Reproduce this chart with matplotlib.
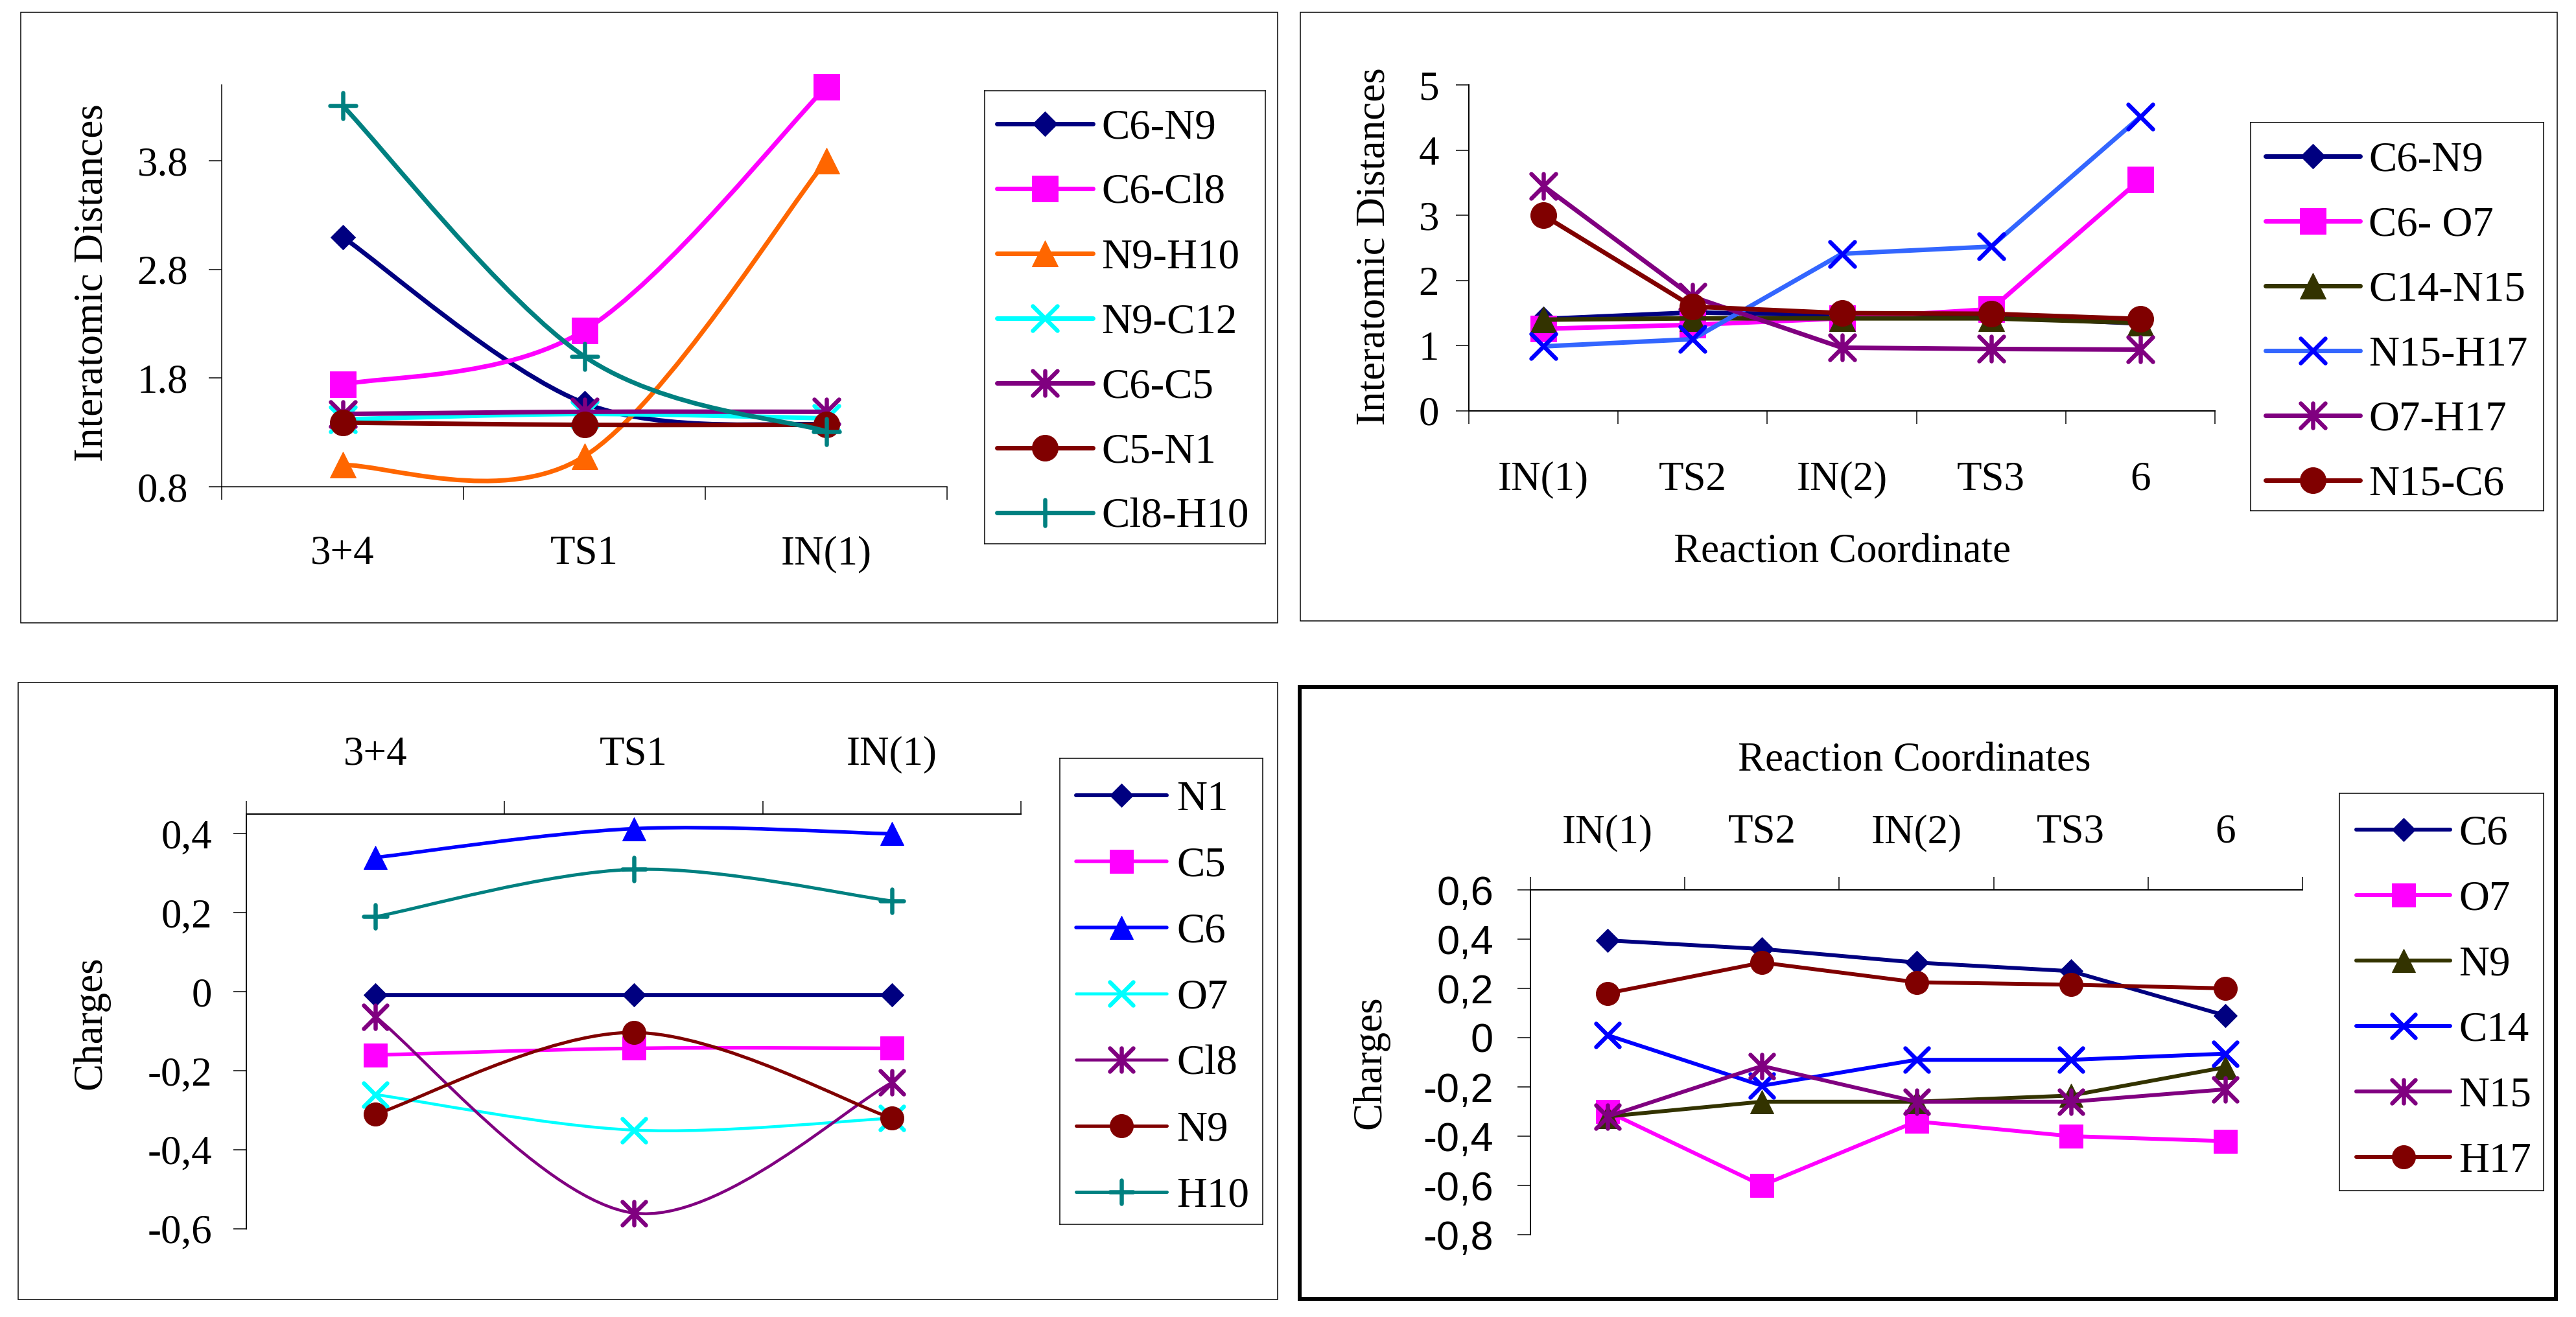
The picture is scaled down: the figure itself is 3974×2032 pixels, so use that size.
import numpy as np
import matplotlib
matplotlib.use('Agg')
import matplotlib.pyplot as plt
from matplotlib.path import Path
from matplotlib.patches import PathPatch, Rectangle
from matplotlib.markers import MarkerStyle

# ---------------- data ----------------
cats1 = ['3+4', 'TS1', 'IN(1)']
cats2 = ['IN(1)', 'TS2', 'IN(2)', 'TS3', '6']

# panel 1: interatomic distances (3+4 -> IN(1))
p1_labels = ['C6-N9', 'C6-Cl8', 'N9-H10', 'N9-C12', 'C6-C5', 'C5-N1', 'Cl8-H10']
p1_c6_n9 = [3.10, 1.57, 1.37]
p1_c6_cl8 = [1.74, 2.24, 4.48]
p1_n9_h10 = [1.00, 1.08, 3.80]
p1_n9_c12 = [1.42, 1.47, 1.43]
p1_c6_c5 = [1.47, 1.49, 1.49]
p1_c5_n1 = [1.39, 1.37, 1.37]
p1_cl8_h10 = [4.31, 2.00, 1.31]
p1_yticks = [0.8, 1.8, 2.8, 3.8]
p1_yticklabels = ['0.8', '1.8', '2.8', '3.8']

# panel 2: interatomic distances (IN(1) -> 6)
p2_labels = ['C6-N9', 'C6- O7', 'C14-N15', 'N15-H17', 'O7-H17', 'N15-C6']
p2_c6_n9 = [1.41, 1.51, 1.47, 1.45, 1.34]
p2_c6_o7 = [1.26, 1.32, 1.42, 1.56, 3.55]
p2_c14_n15 = [1.40, 1.42, 1.42, 1.42, 1.35]
p2_n15_h17 = [0.99, 1.10, 2.41, 2.52, 4.51]
p2_o7_h17 = [3.45, 1.75, 0.97, 0.95, 0.94]
p2_n15_c6 = [3.00, 1.60, 1.50, 1.49, 1.41]
p2_yticks = [0, 1, 2, 3, 4, 5]
p2_yticklabels = ['0', '1', '2', '3', '4', '5']

# panel 3: charges (3+4 -> IN(1))
p3_labels = ['N1', 'C5', 'C6', 'O7', 'Cl8', 'N9', 'H10']
p3_n1 = [-0.008, -0.008, -0.008]
p3_c5 = [-0.16, -0.143, -0.143]
p3_c6 = [0.34, 0.413, 0.40]
p3_o7 = [-0.26, -0.35, -0.32]
p3_cl8 = [-0.063, -0.56, -0.23]
p3_n9 = [-0.31, -0.103, -0.32]
p3_h10 = [0.19, 0.31, 0.23]
p3_yticks = [-0.6, -0.4, -0.2, 0, 0.2, 0.4]
p3_yticklabels = ['-0,6', '-0,4', '-0,2', '0', '0,2', '0,4']

# panel 4: charges (IN(1) -> 6)
p4_labels = ['C6', 'O7', 'N9', 'C14', 'N15', 'H17']
p4_c6 = [0.395, 0.36, 0.305, 0.27, 0.09]
p4_o7 = [-0.30, -0.60, -0.34, -0.40, -0.42]
p4_n9 = [-0.32, -0.26, -0.26, -0.235, -0.12]
p4_c14 = [0.01, -0.195, -0.09, -0.09, -0.065]
p4_n15 = [-0.32, -0.115, -0.26, -0.26, -0.21]
p4_h17 = [0.18, 0.305, 0.225, 0.215, 0.20]
p4_yticks = [-0.8, -0.6, -0.4, -0.2, 0, 0.2, 0.4, 0.6]
p4_yticklabels = ['-0,8', '-0,6', '-0,4', '-0,2', '0', '0,2', '0,4', '0,6']

# ---------------- setup ----------------
W, H = 3974, 2032
P = 72 / 100.0  # points per pixel at dpi 100
SERIF = ['Liberation Serif', 'DejaVu Serif']
SANS = ['Liberation Sans', 'DejaVu Sans']
plt.rcParams['font.family'] = SERIF
FS = 63 * P
LFS = 65 * P

NAVY = '#000080'; MAG = '#FF00FF'; ORANGE = '#FF6600'; CYAN = '#00FFFF'
PURPLE = '#800080'; MAROON = '#800000'; TEAL = '#008080'; BLUE = '#0000FF'
OLIVE = '#333300'; LBLUE = '#3366FF'

STAR = Path([(0, -1), (0, 1), (-1, -1), (1, 1), (-1, 1), (1, -1)],
            [Path.MOVETO, Path.LINETO, Path.MOVETO, Path.LINETO, Path.MOVETO, Path.LINETO])
STROKED = {'x', '+', 'star'}


def st(color, marker, ms, lw, mcolor=None, mew=6.5):
    return dict(color=color, marker=marker, ms=ms, lw=lw,
                mcolor=mcolor if mcolor else color, mew=mew)


def marker_kw(s):
    m = s['marker']
    if m == 'star':
        mstyle = MarkerStyle(STAR, capstyle='round', joinstyle='round')
    elif m in ('x', '+'):
        mstyle = MarkerStyle(m, capstyle='round', joinstyle='round')
    else:
        mstyle = MarkerStyle(m)
    ms = s['ms']
    if m == 'D':
        ms = ms / 1.414
    if m in STROKED:
        return dict(marker=mstyle, markersize=ms * P, markerfacecolor='none',
                    markeredgecolor=s['mcolor'], markeredgewidth=s['mew'] * P)
    return dict(marker=mstyle, markersize=ms * P, markerfacecolor=s['mcolor'],
                markeredgecolor=s['mcolor'], markeredgewidth=1.0 * P)


def smooth_path(x, y):
    pts = np.column_stack([x, y]).astype(float)
    n = len(pts)
    verts = [pts[0]]
    codes = [Path.MOVETO]
    for i in range(n - 1):
        p0 = pts[i - 1] if i > 0 else pts[i]
        p1 = pts[i]
        p2 = pts[i + 1]
        p3 = pts[i + 2] if i + 2 < n else pts[i + 1]
        c1 = p1 + (p2 - p0) / 6.0
        c2 = p2 - (p3 - p1) / 6.0
        verts += [c1, c2, p2]
        codes += [Path.CURVE4] * 3
    return Path(verts, codes)


def draw_series(ax, y, s, smooth, z):
    x = np.arange(len(y))
    if smooth:
        ax.add_patch(PathPatch(smooth_path(x, y), fill=False, ec=s['color'],
                               lw=s['lw'] * P, capstyle='round', joinstyle='round',
                               zorder=z, clip_on=False))
        ax.plot(x, y, ls='none', zorder=z + 0.5, clip_on=False, **marker_kw(s))
    else:
        ax.plot(x, y, color=s['color'], lw=s['lw'] * P, solid_capstyle='round',
                solid_joinstyle='round', zorder=z, clip_on=False, **marker_kw(s))


fig = plt.figure(figsize=(W / 100, H / 100), dpi=100)


def frame(l, t, r, b, lw):
    fig.add_artist(Rectangle((l / W, 1 - b / H), (r - l) / W, (b - t) / H,
                             transform=fig.transFigure, fill=False, ec='black', lw=lw * P))


def make_axes(l, t, r, b):
    return fig.add_axes([l / W, 1 - b / H, (r - l) / W, (b - t) / H])


def style_axes(ax, box, cats, ylim, yticks, yticklabels, top, xpad, ypad,
               ylabel, ylab_xy, spine_lw, yfont=SERIF):
    l, t, r, b = box
    n = len(cats)
    ax.patch.set_visible(False)
    for sp in ax.spines.values():
        sp.set_visible(False)
    ax.spines['left'].set_visible(True)
    ax.spines['left'].set_linewidth(spine_lw * P)
    xs = 'top' if top else 'bottom'
    ax.spines[xs].set_visible(True)
    ax.spines[xs].set_linewidth(spine_lw * P)
    ax.set_xlim(-0.5, n - 0.5)
    ax.set_ylim(*ylim)
    ax.set_xticks(range(n))
    ax.set_xticklabels(cats)
    ax.set_xticks(np.arange(n + 1) - 0.5, minor=True)
    ax.xaxis.set_ticks_position(xs)
    ax.tick_params(axis='x', which='major', length=0, pad=xpad * P, labelsize=FS)
    ax.tick_params(axis='x', which='minor', length=20 * P, width=1.5 * P, direction='out')
    for tk in ax.xaxis.get_major_ticks():
        tk.label1.set_va('center_baseline')
        tk.label2.set_va('center_baseline')
    ax.set_yticks(yticks)
    ax.set_yticklabels(yticklabels, fontfamily=yfont)
    ax.yaxis.set_minor_locator(matplotlib.ticker.NullLocator())
    ax.tick_params(axis='y', which='major', length=20 * P, width=1.5 * P,
                   direction='out', pad=ypad * P, labelsize=FS)
    ax.set_ylabel(ylabel, fontsize=FS, va='center', ha='center')
    ax.yaxis.set_label_coords((ylab_xy[0] - l) / (r - l), (b - ylab_xy[1]) / (b - t))


def legend_box(box, labels, styles, y0, dy, lx0, lx1, tx):
    l, t, r, b = box
    lax = fig.add_axes([l / W, 1 - b / H, (r - l) / W, (b - t) / H])
    lax.set_xlim(l, r)
    lax.set_ylim(b, t)
    lax.set_xticks([])
    lax.set_yticks([])
    for sp in lax.spines.values():
        sp.set_linewidth(1.5 * P)
        sp.set_color('black')
    for i, (lab, s) in enumerate(zip(labels, styles)):
        y = y0 + dy * i
        lax.plot([lx0, lx1], [y, y], color=s['color'], lw=s['lw'] * P,
                 solid_capstyle='round', clip_on=False)
        lax.plot([(lx0 + lx1) / 2], [y], ls='none', clip_on=False, **marker_kw(s))
        lax.text(tx, y, lab, fontsize=LFS, va='center_baseline', ha='left')


# ---------------- panel 1 ----------------
frame(32, 19, 1971, 961, 1.5)
box1 = (342, 131, 1461, 751)
ax1 = make_axes(*box1)
s1 = [st(NAVY, 'D', 38, 7), st(MAG, 's', 40, 7), st(ORANGE, '^', 40, 7),
      st(CYAN, 'x', 38, 7), st(PURPLE, 'star', 38, 7), st(MAROON, 'o', 40, 7),
      st(TEAL, '+', 40, 7)]
p1_data = [p1_c6_n9, p1_c6_cl8, p1_n9_h10, p1_n9_c12, p1_c6_c5, p1_c5_n1, p1_cl8_h10]
for i, (yv, s) in enumerate(zip(p1_data, s1)):
    draw_series(ax1, yv, s, True, 3 + i)
style_axes(ax1, box1, cats1, (0.8, 4.5), p1_yticks, p1_yticklabels, False, 97, 32,
           'Interatomic Distances', (143, 436), 1.5)
legend_box((1519, 140, 1952, 839), p1_labels, s1, 191, 100, 1538, 1686, 1699)

# ---------------- panel 2 ----------------
frame(2006, 19, 3945, 958, 1.5)
box2 = (2266, 131, 3417, 634)
ax2 = make_axes(*box2)
s2 = [st(NAVY, 'D', 38, 7), st(MAG, 's', 40, 7), st(OLIVE, '^', 40, 7),
      st(LBLUE, 'x', 38, 7, mcolor=BLUE), st(PURPLE, 'star', 38, 7), st(MAROON, 'o', 40, 7)]
p2_data = [p2_c6_n9, p2_c6_o7, p2_c14_n15, p2_n15_h17, p2_o7_h17, p2_n15_c6]
for i, (yv, s) in enumerate(zip(p2_data, s2)):
    draw_series(ax2, yv, s, False, 3 + i)
style_axes(ax2, box2, cats2, (0, 5), p2_yticks, p2_yticklabels, False, 99, 26,
           'Interatomic Distances', (2120, 380), 2)
ax2.set_xlabel('Reaction Coordinate', fontsize=FS, va='center_baseline')
ax2.xaxis.set_label_coords((2842 - 2266) / (3417 - 2266), (634 - 845) / (634 - 131))
legend_box((3472, 189, 3924, 788), p2_labels, s2, 241, 100, 3495, 3641, 3654)

# ---------------- panel 3 ----------------
frame(28, 1053, 1971, 2005, 1.5)
box3 = (380, 1256, 1575, 1896)
ax3 = make_axes(*box3)
s3 = [st(NAVY, 'D', 36, 6), st(MAG, 's', 36, 5.5), st(BLUE, '^', 36, 5.5),
      st(CYAN, 'x', 36, 4.5), st(PURPLE, 'star', 36, 4.5), st(MAROON, 'o', 36, 5),
      st(TEAL, '+', 36, 5)]
p3_data = [p3_n1, p3_c5, p3_c6, p3_o7, p3_cl8, p3_n9, p3_h10]
for i, (yv, s) in enumerate(zip(p3_data, s3)):
    draw_series(ax3, yv, s, True, 3 + i)
style_axes(ax3, box3, cats1, (-0.6, 0.45), p3_yticks, p3_yticklabels, True, 99, 33,
           'Charges', (140, 1578), 2)
legend_box((1635, 1170, 1948, 1889), p3_labels, s3, 1227, 102, 1660, 1800, 1815)

# ---------------- panel 4 ----------------
frame(2005, 1060, 3943, 2004, 6)
box4 = (2361, 1373, 3552, 1905)
ax4 = make_axes(*box4)
s4 = [st(NAVY, 'D', 36, 6), st(MAG, 's', 36, 6), st(OLIVE, '^', 36, 6),
      st(BLUE, 'x', 36, 6), st(PURPLE, 'star', 36, 6), st(MAROON, 'o', 36, 6)]
p4_data = [p4_c6, p4_o7, p4_n9, p4_c14, p4_n15, p4_h17]
for i, (yv, s) in enumerate(zip(p4_data, s4)):
    draw_series(ax4, yv, s, False, 3 + i)
style_axes(ax4, box4, cats2, (-0.8, 0.6), p4_yticks, p4_yticklabels, True, 95, 37,
           'Charges', (2114, 1639), 2, yfont=SANS)
ax4.xaxis.set_label_position('top')
ax4.set_xlabel('Reaction Coordinates', fontsize=FS, va='center_baseline')
ax4.xaxis.set_label_coords((2953 - 2361) / (3552 - 2361), (1905 - 1168) / (1905 - 1373))
legend_box((3609, 1224, 3924, 1837), p4_labels, s4, 1280, 101, 3635, 3780, 3793)

fig.savefig('out.png', dpi=100)
